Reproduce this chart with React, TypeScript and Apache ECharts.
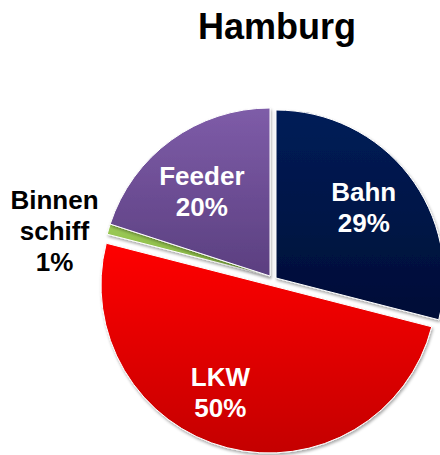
import React, { useEffect, useRef } from "react";
import * as echarts from "echarts";

const titleText = "Hamburg";
const categories = ["Bahn", "LKW", "Binnenschiff", "Feeder"];
const labelNames = ["Bahn", "LKW", "Binnen\nschiff", "Feeder"];
const values = [29, 50, 1, 20];

const topColors = ["#041d58", "#ff0000", "#9ccb55", "#7e5ca8"];
const bottomColors = ["#000d36", "#c40000", "#86b444", "#5b3f80"];
const labelColors = ["#ffffff", "#ffffff", "#000000", "#ffffff"];
const labelOffsets: number[][] = [[19, -17], [-27, 23], [-132, -21], [-17, -14]];

const R = 168;

function makeSeries(center: number[], owned: number[]) {
  return {
    type: "pie",
    center,
    radius: R,
    startAngle: 90,
    clockwise: true,
    silent: true,
    avoidLabelOverlap: false,
    labelLine: { show: false },
    data: values.map((v, i) => {
      const mine = owned.includes(i);
      return {
        value: v,
        name: categories[i],
        itemStyle: mine
          ? {
              color: new echarts.graphic.LinearGradient(0, 0, 0, 1, [
                { offset: 0, color: topColors[i] },
                { offset: 1, color: bottomColors[i] },
              ]),
              borderColor: "#ffffff",
              borderWidth: 1,
              shadowBlur: 3,
              shadowColor: "rgba(0,0,0,0.35)",
              shadowOffsetX: 1,
              shadowOffsetY: 2,
            }
          : { color: "rgba(0,0,0,0)", borderWidth: 0, shadowBlur: 0 },
        label: mine
          ? {
              show: true,
              position: "inside",
              offset: labelOffsets[i],
              color: labelColors[i],
              fontFamily: "Liberation Sans, Arial, sans-serif",
              fontWeight: "bold",
              fontSize: 26,
              lineHeight: 31,
              align: "center",
              formatter: (p: any) => `${labelNames[p.dataIndex]}\n${Math.round(p.percent)}%`,
            }
          : { show: false },
      };
    }),
  };
}

export default function App() {
  const ref = useRef<HTMLDivElement>(null);
  useEffect(() => {
    if (!ref.current) return;
    const chart = echarts.init(ref.current, null, { renderer: "svg" });
    chart.setOption({
      animation: false,
      backgroundColor: "#ffffff",
      title: {
        text: titleText,
        left: 272,
        top: 3,
        textAlign: "center",
        textStyle: {
          fontFamily: "Liberation Sans, Arial, sans-serif",
          fontWeight: "bold",
          fontSize: 36,
          color: "#000000",
        },
      },
      series: [
        makeSeries([270, 276], [2, 3]),
        makeSeries([269, 285], [1]),
        makeSeries([276, 278], [0]),
      ],
    });
    return () => chart.dispose();
  }, []);
  return (
    <div
      ref={ref}
      style={{ position: "absolute", left: 0, top: 0, width: 440, height: 455 }}
    />
  );
}
